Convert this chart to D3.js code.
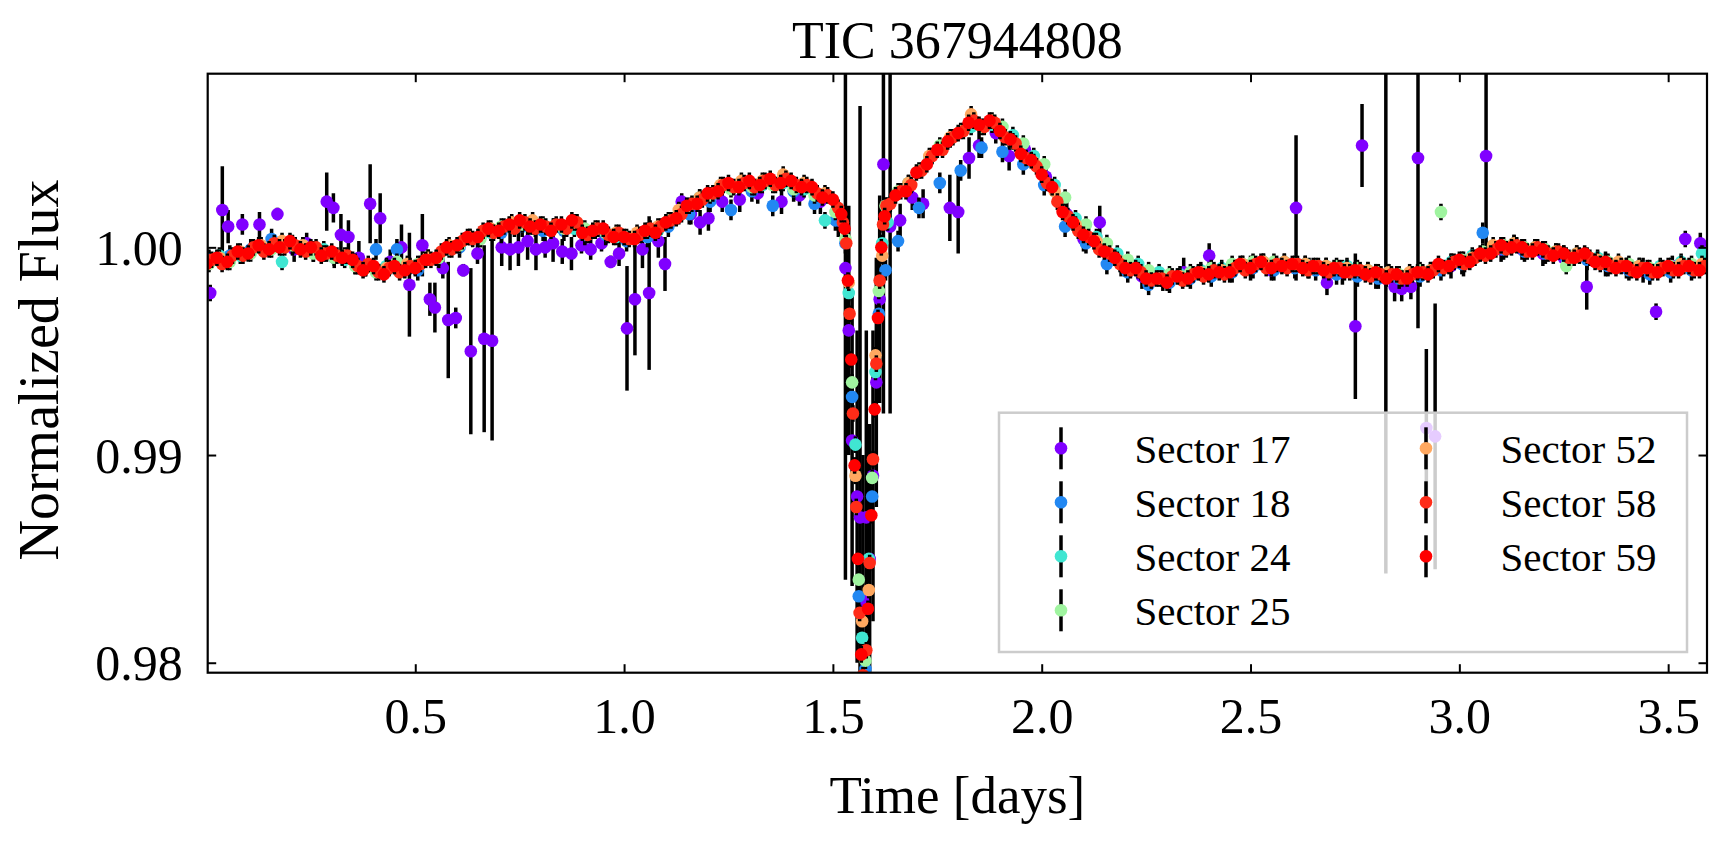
<!DOCTYPE html>
<html>
<head>
<meta charset="utf-8">
<script src="https://cdn.jsdelivr.net/npm/d3@7"></script>
<style>
html, body { margin: 0; padding: 0; background: #fff; }
svg text { font-family: "Liberation Serif", "DejaVu Serif", serif; fill: #000; }
</style>
</head>
<body>
<svg id="chart" width="1727" height="846"></svg>
<script>
// ---- data ----
var sectorNames = ["Sector 17", "Sector 18", "Sector 24", "Sector 25", "Sector 52", "Sector 58", "Sector 59"];
var xTicks = [0.5, 1.0, 1.5, 2.0, 2.5, 3.0, 3.5];
var yTicks = [0.98, 0.99, 1.00];

// time grids (days)
var tA = [0.000,0.025,0.050,0.075,0.100,0.125,0.150,0.175,0.200,0.225,0.250,0.275,0.300,0.325,0.350,0.375,0.400,0.425,0.450,0.475,
  0.500,0.525,0.550,0.575,0.600,0.625,0.650,0.675,0.700,0.725,0.750,0.775,0.800,0.825,0.850,0.875,0.900,0.925,0.950,0.975,
  1.000,1.025,1.050,1.075,1.100,1.125,1.150,1.175,1.200,1.225,1.250,1.275,1.300,1.325,1.350,1.375,1.400,1.425,1.450,1.475,1.500,
  1.520,1.528,1.536,1.544,1.552,1.560,1.568,1.576,1.584,1.592,1.600,1.608,1.616,1.624,
  1.650,1.675,1.700,1.725,1.750,1.775,1.800,1.825,1.850,1.875,1.900,1.925,1.950,1.975,2.000,2.025,2.050,2.075,2.100,2.125,
  2.150,2.175,2.200,2.225,2.250,2.275,2.300,2.325,2.350,2.375,2.400,2.425,2.450,2.475,2.500,2.525,2.550,2.575,2.600,2.625,
  2.650,2.675,2.700,2.725,2.750,2.775,2.800,2.825,2.850,2.875,2.900,2.925,2.950,2.975,3.000,3.025,3.050,3.075,3.100,3.125,
  3.150,3.175,3.200,3.225,3.250,3.275,3.300,3.325,3.350,3.375,3.400,3.425,3.450,3.475,3.500,3.525,3.550,3.575];
var tB = [0.0125,0.0375,0.0625,0.0875,0.1125,0.1375,0.1625,0.1875,0.2125,0.2375,0.2625,0.2875,0.3125,0.3375,0.3625,0.3875,
  0.4125,0.4375,0.4625,0.4875,0.5125,0.5375,0.5625,0.5875,0.6125,0.6375,0.6625,0.6875,0.7125,0.7375,0.7625,0.7875,0.8125,
  0.8375,0.8625,0.8875,0.9125,0.9375,0.9625,0.9875,1.0125,1.0375,1.0625,1.0875,1.1125,1.1375,1.1625,1.1875,1.2125,1.2375,
  1.2625,1.2875,1.3125,1.3375,1.3625,1.3875,1.4125,1.4375,1.4625,1.4875,1.5125,
  1.524,1.532,1.540,1.548,1.556,1.564,1.572,1.580,1.588,1.596,1.604,1.612,1.620,1.628,
  1.6375,1.6625,1.6875,1.7125,1.7375,1.7625,1.7875,1.8125,1.8375,1.8625,1.8875,1.9125,1.9375,1.9625,1.9875,2.0125,2.0375,
  2.0625,2.0875,2.1125,2.1375,2.1625,2.1875,2.2125,2.2375,2.2625,2.2875,2.3125,2.3375,2.3625,2.3875,2.4125,2.4375,2.4625,
  2.4875,2.5125,2.5375,2.5625,2.5875,2.6125,2.6375,2.6625,2.6875,2.7125,2.7375,2.7625,2.7875,2.8125,2.8375,2.8625,2.8875,
  2.9125,2.9375,2.9625,2.9875,3.0125,3.0375,3.0625,3.0875,3.1125,3.1375,3.1625,3.1875,3.2125,3.2375,3.2625,3.2875,3.3125,
  3.3375,3.3625,3.3875,3.4125,3.4375,3.4625,3.4875,3.5125,3.5375,3.5625,3.5875];
var tC = [0.006,0.056,0.106,0.156,0.206,0.256,0.306,0.356,0.406,0.456,0.506,0.556,0.606,0.656,0.706,0.756,0.806,0.856,0.906,0.956,
  1.006,1.056,1.106,1.156,1.206,1.256,1.306,1.356,1.406,1.456,1.506,
  1.530,1.546,1.562,1.578,1.594,1.610,1.626,
  1.656,1.706,1.756,1.806,1.856,1.906,1.956,2.006,2.056,2.106,2.156,2.206,2.256,2.306,2.356,2.406,2.456,2.506,2.556,2.606,
  2.656,2.706,2.756,2.806,2.856,2.906,2.956,3.006,3.056,3.106,3.156,3.206,3.256,3.306,3.356,3.406,3.456,3.506,3.556];
var tD = [0.031,0.081,0.131,0.181,0.231,0.281,0.331,0.381,0.431,0.481,0.531,0.581,0.631,0.681,0.731,0.781,0.831,0.881,0.931,0.981,
  1.031,1.081,1.131,1.181,1.231,1.281,1.331,1.381,1.431,1.481,
  1.538,1.554,1.570,1.586,1.602,1.618,
  1.631,1.681,1.731,1.781,1.831,1.881,1.931,1.981,2.031,2.081,2.131,2.181,2.231,2.281,2.331,2.381,2.431,2.481,2.531,2.581,
  2.631,2.681,2.731,2.781,2.831,2.881,2.931,2.981,3.031,3.081,3.131,3.181,3.231,3.281,3.331,3.381,3.431,3.481,3.531,3.581];

// Sector 17: sparse and noisy, own times, fluxes and errors
var s17Time = [0.009,0.038,0.052,0.086,0.127,0.170,0.210,0.240,0.288,0.304,0.322,0.340,0.365,0.392,0.416,0.440,0.467,0.486,0.517,0.535,
  0.547,0.566,0.579,0.597,0.615,0.633,0.649,0.665,0.684,0.707,0.727,0.747,0.769,0.789,0.811,0.830,0.852,0.874,0.898,0.920,
  0.946,0.968,0.988,1.007,1.026,1.044,1.060,1.082,1.098,1.138,1.160,1.182,1.202,1.235,1.277,1.320,1.377,1.420,1.470,1.513,
  1.530,1.538,1.546,1.558,1.565,1.572,1.580,1.588,1.596,1.604,1.612,1.621,1.637,
  1.661,1.690,1.716,1.780,1.800,1.826,1.850,1.890,1.922,1.960,2.010,2.060,2.100,2.139,2.190,2.240,2.290,2.340,2.401,2.450,
  2.500,2.550,2.609,2.640,2.683,2.720,2.751,2.767,2.800,2.824,2.845,2.862,2.884,2.901,2.921,2.942,2.980,3.010,3.064,3.100,
  3.150,3.200,3.250,3.305,3.350,3.400,3.440,3.471,3.510,3.541,3.577];
var s17Flux = [0.9978,1.0018,1.0010,1.0011,1.0011,1.0016,0.9999,1.0002,1.0022,1.0019,1.0006,1.0005,0.9995,1.0021,1.0014,0.9993,1.0000,0.9982,1.0001,0.9975,
  0.9971,0.9990,0.9965,0.9966,0.9989,0.9950,0.9997,0.9956,0.9955,1.0000,0.9999,1.0000,1.0003,0.9999,1.0000,1.0002,0.9998,0.9997,1.0001,0.9999,
  1.0002,0.9993,0.9997,0.9961,0.9975,0.9999,0.9978,1.0003,0.9992,1.0022,1.0016,1.0012,1.0014,1.0022,1.0023,1.0026,1.0022,1.0025,1.0022,1.0013,
  0.9990,0.9960,0.9907,0.9880,0.9870,0.9830,0.9870,0.9850,0.9890,0.9935,0.9975,1.0040,1.0010,
  1.0013,1.0024,1.0021,1.0019,1.0017,1.0043,1.0049,1.0055,1.0044,1.0047,1.0034,1.0016,1.0004,1.0012,0.9992,0.9986,0.9984,0.9988,0.9996,0.9988,
  0.9990,0.9989,1.0019,0.9990,0.9983,0.9988,0.9962,1.0049,0.9986,0.9985,0.9981,0.9980,0.9981,1.0043,0.9913,0.9909,0.9991,0.9992,1.0044,0.9999,
  0.9999,0.9997,0.9995,0.9981,0.9992,0.9990,0.9989,0.9969,0.9991,1.0004,1.0002];
var s17Err = [0.0004,0.0021,0.0008,0.0005,0.0006,0.0003,0.0006,0.0005,0.0014,0.0007,0.0010,0.0008,0.0008,0.0019,0.0012,0.0006,0.0011,0.0025,0.0015,0.0008,
  0.0012,0.0005,0.0028,0.0005,0.0003,0.0040,0.0005,0.0045,0.0048,0.0009,0.0010,0.0009,0.0009,0.0010,0.0005,0.0009,0.0006,0.0008,0.0004,0.0005,
  0.0004,0.0003,0.0006,0.0030,0.0027,0.0009,0.0037,0.0008,0.0013,0.0004,0.0005,0.0006,0.0006,0.0005,0.0006,0.0005,0.0006,0.0005,0.0006,0.0008,
  0.0150,0.0060,0.0070,0.0080,0.0198,0.0070,0.0090,0.0065,0.0070,0.0060,0.0050,0.0120,0.0090,
  0.0008,0.0006,0.0007,0.0016,0.0020,0.0010,0.0006,0.0005,0.0007,0.0005,0.0006,0.0006,0.0006,0.0008,0.0006,0.0006,0.0005,0.0007,0.0006,0.0005,
  0.0006,0.0005,0.0035,0.0005,0.0006,0.0006,0.0035,0.0020,0.0006,0.0142,0.0007,0.0006,0.0006,0.0082,0.0038,0.0064,0.0006,0.0006,0.0045,0.0006,
  0.0005,0.0006,0.0006,0.0011,0.0006,0.0005,0.0006,0.0004,0.0005,0.0004,0.0005];

// Sector 18 on tC
var flux18 = [0.9994,0.9996,0.9999,1.0004,1.0001,0.9998,0.9995,0.9992,0.9999,0.9999,0.9989,0.9995,1.0000,1.0005,1.0007,1.0010,1.0008,1.0008,1.0006,1.0006,
  1.0003,1.0005,1.0010,1.0016,1.0022,1.0018,1.0027,1.0020,1.0027,1.0021,1.0013,
  1.0002,0.9928,0.9832,0.9797,0.9880,0.9968,0.9989,
  1.0003,1.0019,1.0031,1.0037,1.0048,1.0046,1.0040,1.0030,1.0010,1.0002,0.9992,0.9988,0.9982,0.9983,0.9985,0.9986,0.9988,0.9990,0.9989,0.9990,
  0.9989,0.9987,0.9986,0.9985,0.9985,0.9986,0.9989,0.9992,1.0007,0.9999,0.9998,0.9997,0.9995,0.9994,0.9991,0.9989,0.9987,0.9988,0.9989];
// Sector 24 on tD
var flux24 = [0.9996,0.9996,1.0000,0.9993,1.0001,0.9999,0.9994,0.9990,0.9991,0.9991,0.9995,0.9999,1.0005,1.0007,1.0011,1.0010,1.0010,1.0009,1.0008,1.0005,
  1.0006,1.0008,1.0015,1.0024,1.0029,1.0031,1.0030,1.0031,1.0028,1.0013,
  0.9978,0.9905,0.9812,0.9850,0.9940,1.0002,
  1.0012,1.0031,1.0043,1.0052,1.0058,1.0059,1.0054,1.0044,1.0030,1.0014,1.0005,0.9997,0.9992,0.9988,0.9987,0.9989,0.9990,0.9992,0.9993,0.9993,
  0.9992,0.9991,0.9991,0.9989,0.9988,0.9987,0.9989,0.9993,0.9996,0.9999,1.0002,1.0000,0.9998,0.9997,0.9995,0.9992,0.9991,0.9991,0.9993,0.9997];
// Sector 25 on tC
var flux25 = [0.9992,0.9993,0.9997,0.9999,1.0001,0.9997,0.9995,0.9991,0.9988,0.9993,0.9992,0.9995,1.0001,1.0004,1.0010,1.0011,1.0011,1.0009,1.0009,1.0007,
  1.0005,1.0008,1.0013,1.0020,1.0025,1.0028,1.0029,1.0030,1.0028,1.0025,1.0017,
  1.0004,0.9935,0.9840,0.9801,0.9889,0.9979,1.0020,
  1.0027,1.0037,1.0049,1.0056,1.0058,1.0058,1.0050,1.0040,1.0024,1.0011,1.0002,0.9994,0.9989,0.9987,0.9988,0.9990,0.9992,0.9993,0.9993,0.9992,
  0.9991,0.9991,0.9990,0.9988,0.9987,0.9989,1.0017,0.9994,0.9998,1.0001,1.0000,0.9999,0.9991,0.9996,0.9993,0.9992,0.9990,0.9991,0.9992];
// Sector 52 on tD
var flux52 = [0.9995,0.9998,1.0001,1.0003,1.0001,0.9997,0.9996,0.9990,0.9990,0.9992,0.9995,1.0001,1.0005,1.0009,1.0012,1.0013,1.0010,1.0012,1.0009,1.0007,
  1.0007,1.0010,1.0018,1.0024,1.0030,1.0032,1.0032,1.0035,1.0031,1.0026,
  0.9983,0.9890,0.9820,0.9835,0.9948,0.9996,
  1.0020,1.0031,1.0044,1.0053,1.0064,1.0061,1.0051,1.0041,1.0027,1.0011,1.0003,0.9994,0.9989,0.9985,0.9986,0.9988,0.9989,0.9992,0.9993,0.9993,
  0.9992,0.9991,0.9990,0.9989,0.9988,0.9988,0.9989,0.9992,0.9995,1.0001,1.0002,1.0000,0.9998,0.9997,0.9994,0.9993,0.9991,0.9990,0.9992,0.9992];
// Sector 58 on tB
var flux58 = [0.9994,0.9992,0.9996,0.9996,1.0000,0.9998,1.0002,1.0000,1.0001,0.9998,1.0000,0.9997,0.9996,0.9996,0.9991,0.9992,0.9988,0.9990,0.9988,0.9991,
  0.9992,0.9994,0.9998,0.9999,1.0003,1.0004,1.0008,1.0007,1.0010,1.0009,1.0012,1.0009,1.0010,1.0011,1.0009,1.0012,1.0006,1.0009,1.0006,1.0007,
  1.0004,1.0006,1.0009,1.0010,1.0013,1.0016,1.0021,1.0023,1.0026,1.0030,1.0029,1.0031,1.0029,1.0032,1.0030,1.0033,1.0030,1.0030,1.0026,1.0025,1.0019,
  1.0012,1.0002,0.9968,0.9920,0.9875,0.9824,0.9794,0.9806,0.9848,0.9898,0.9944,0.9984,1.0011,1.0020,
  1.0021,1.0027,1.0030,1.0037,1.0044,1.0047,1.0053,1.0056,1.0061,1.0058,1.0060,1.0053,1.0050,1.0043,1.0039,1.0031,1.0022,1.0015,1.0008,1.0005,
  0.9999,0.9997,0.9992,0.9989,0.9988,0.9984,0.9985,0.9986,0.9984,0.9987,0.9986,0.9989,0.9987,0.9990,0.9989,0.9992,0.9990,0.9992,0.9990,0.9992,
  0.9989,0.9991,0.9988,0.9990,0.9988,0.9989,0.9986,0.9987,0.9987,0.9985,0.9987,0.9988,0.9989,0.9990,0.9993,0.9992,0.9995,0.9996,0.9999,0.9999,
  1.0001,0.9998,1.0000,0.9997,0.9998,0.9995,0.9996,0.9995,0.9992,0.9991,0.9991,0.9989,0.9990,0.9988,0.9990,0.9989,0.9991,0.9989,0.9991];
// Sector 59 on tA
var flux59 = [0.9992,0.9995,0.9993,0.9998,0.9997,1.0001,0.9999,1.0000,1.0003,0.9999,1.0000,0.9996,0.9998,0.9995,0.9994,0.9989,0.9991,0.9987,0.9991,0.9989,
  0.9990,0.9994,0.9995,1.0000,1.0001,1.0005,1.0005,1.0009,1.0008,1.0011,1.0013,1.0010,1.0011,1.0008,1.0011,1.0013,1.0007,1.0008,1.0009,1.0005,
  1.0005,1.0004,1.0008,1.0007,1.0012,1.0014,1.0020,1.0021,1.0026,1.0027,1.0031,1.0029,1.0032,1.0030,1.0033,1.0031,1.0032,1.0029,1.0029,1.0024,1.0023,
  1.0016,1.0009,0.9984,0.9946,0.9895,0.9850,0.9804,0.9791,0.9826,0.9871,0.9922,0.9966,1.0000,1.0015,
  1.0025,1.0027,1.0036,1.0040,1.0047,1.0051,1.0055,1.0060,1.0059,1.0061,1.0056,1.0052,1.0045,1.0042,1.0035,1.0029,1.0017,1.0012,1.0006,1.0003,
  0.9998,0.9995,0.9990,0.9990,0.9985,0.9985,0.9983,0.9986,0.9985,0.9988,0.9987,0.9988,0.9988,0.9992,0.9990,0.9993,0.9990,0.9991,0.9992,0.9990,
  0.9991,0.9989,0.9990,0.9988,0.9989,0.9987,0.9988,0.9985,0.9987,0.9985,0.9988,0.9987,0.9992,0.9991,0.9994,0.9993,0.9997,0.9997,1.0001,1.0000,
  1.0000,0.9998,0.9999,0.9996,0.9997,0.9995,0.9997,0.9993,0.9993,0.9990,0.9991,0.9988,0.9990,0.9988,0.9991,0.9989,0.9991,0.9989];
// typical flux errors of the quieter sectors
var typicalErr = [null, 0.0005, 0.0004, 0.0004, 0.0004, 0.0004, 0.0004];

// ---- styles ----
var sectorColors = ["#8000ff", "#2288f2", "#40e6d2", "#a0f4a0", "#ffa860", "#ff2c18", "#ff0000"];
var dotR = 6.3;

var sectors = [
	{ t: s17Time, f: s17Flux, e: s17Err },
	{ t: tC, f: flux18, e: typicalErr[1] },
	{ t: tD, f: flux24, e: typicalErr[2] },
	{ t: tC, f: flux25, e: typicalErr[3] },
	{ t: tD, f: flux52, e: typicalErr[4] },
	{ t: tB, f: flux58, e: typicalErr[5] },
	{ t: tA, f: flux59, e: typicalErr[6] }
];

// plot box in pixels
var plotL = 207.7, plotR = 1707, plotT = 73.7, plotB = 672.7;
var svg = d3.select("#chart");

var x = d3.scaleLinear().domain([0.003, 3.593]).range([plotL, plotR]);
var y = d3.scaleLinear().domain([0.97952, 1.00836]).range([plotB, plotT]);

svg.append("defs").append("clipPath").attr("id", "plotclip")
	.append("rect").attr("x", plotL).attr("y", plotT).attr("width", plotR - plotL).attr("height", plotB - plotT);

var plot = svg.append("g").attr("clip-path", "url(#plotclip)");

// each sector: black error bars first, then its coloured points
sectors.forEach(function(s, k) {
	var n = Math.min(s.t.length, s.f.length);
	var pts = d3.range(n).map(function(i) {
		return { t: s.t[i], f: s.f[i], e: Array.isArray(s.e) ? s.e[i] : s.e };
	});
	var g = plot.append("g").attr("class", "sector-" + k);
	g.selectAll("line").data(pts).enter().append("line")
		.attr("x1", function(d) { return x(d.t); })
		.attr("x2", function(d) { return x(d.t); })
		.attr("y1", function(d) { return y(d.f - d.e); })
		.attr("y2", function(d) { return y(d.f + d.e); })
		.attr("stroke", "#000")
		.attr("stroke-width", 3.5);
	g.selectAll("circle").data(pts).enter().append("circle")
		.attr("cx", function(d) { return x(d.t); })
		.attr("cy", function(d) { return y(d.f); })
		.attr("r", dotR)
		.attr("fill", sectorColors[k]);
});

// axes, ticks inward on all four sides
var fontFam = '"Liberation Serif", "DejaVu Serif", serif';
var xAxis = svg.append("g").attr("transform", "translate(0," + plotB + ")")
	.call(d3.axisBottom(x).tickValues(xTicks).tickFormat(d3.format(".1f")).tickSizeInner(-8.5).tickSizeOuter(0).tickPadding(25));
var yAxis = svg.append("g").attr("transform", "translate(" + plotL + ",0)")
	.call(d3.axisLeft(y).tickValues(yTicks).tickFormat(d3.format(".2f")).tickSizeInner(-8.5).tickSizeOuter(0).tickPadding(25));
var xTop = svg.append("g").attr("transform", "translate(0," + plotT + ")")
	.call(d3.axisTop(x).tickValues(xTicks).tickFormat("").tickSizeInner(-8.5).tickSizeOuter(0));
var yRight = svg.append("g").attr("transform", "translate(" + plotR + ",0)")
	.call(d3.axisRight(y).tickValues(yTicks).tickFormat("").tickSizeInner(-8.5).tickSizeOuter(0));

[xAxis, yAxis, xTop, yRight].forEach(function(a) {
	a.attr("font-family", fontFam);
	a.select(".domain").remove();
	a.selectAll(".tick line").attr("stroke", "#000").attr("stroke-width", 2);
	a.selectAll(".tick text").attr("font-size", 50).attr("fill", "#000");
});
yAxis.selectAll(".tick text").attr("dy", "0.34em");

// frame
svg.append("rect")
	.attr("x", plotL).attr("y", plotT)
	.attr("width", plotR - plotL).attr("height", plotB - plotT)
	.attr("fill", "none").attr("stroke", "#000").attr("stroke-width", 2.2);

// title and labels
svg.append("text").attr("x", (plotL + plotR) / 2).attr("y", 58)
	.attr("text-anchor", "middle").attr("font-size", 52).text("TIC 367944808");
svg.append("text").attr("x", (plotL + plotR) / 2).attr("y", 813)
	.attr("text-anchor", "middle").attr("font-size", 53).text("Time [days]");
svg.append("text").attr("transform", "translate(58,370) rotate(-90)")
	.attr("text-anchor", "middle").attr("font-size", 56).text("Normalized Flux");

// legend, two columns, semi transparent frame
var legend = svg.append("g");
legend.append("rect")
	.attr("x", 999).attr("y", 412.7).attr("width", 688).attr("height", 239.3)
	.attr("fill", "#fff").attr("fill-opacity", 0.8)
	.attr("stroke", "#cccccc").attr("stroke-width", 2.5);

sectorNames.forEach(function(name, k) {
	var col = k < 4 ? 0 : 1, row = k < 4 ? k : k - 4;
	var mx = col === 0 ? 1061 : 1426;
	var tx = col === 0 ? 1134.5 : 1500.5;
	var cy = 448.3 + row * 54;
	legend.append("line")
		.attr("x1", mx).attr("x2", mx).attr("y1", cy - 21).attr("y2", cy + 21)
		.attr("stroke", "#000").attr("stroke-width", 3.5);
	legend.append("circle").attr("cx", mx).attr("cy", cy).attr("r", dotR).attr("fill", sectorColors[k]);
	legend.append("text").attr("x", tx).attr("y", cy + 15).attr("font-size", 41).text(name);
});
</script>
</body>
</html>
